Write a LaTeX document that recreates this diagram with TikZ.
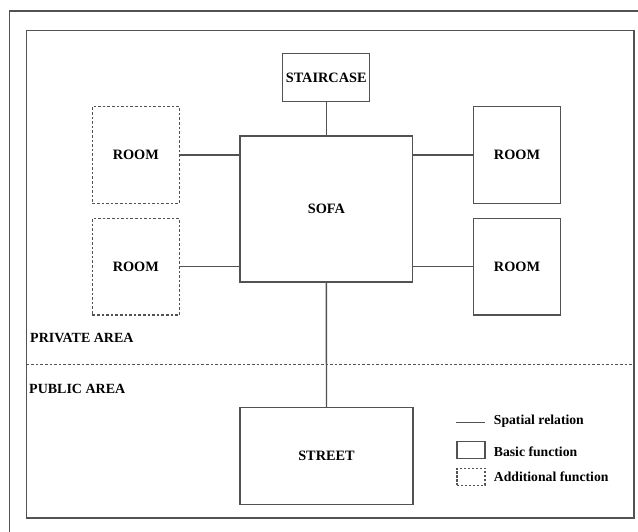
\documentclass[tikz,border=0pt]{standalone}
\usepackage{fontspec}
\setmainfont{Liberation Serif}
\begin{document}
\begin{tikzpicture}[x=1pt,y=-1pt,
  edge/.style={draw=black!68,line width=1.4pt},
  basic/.style={rectangle,draw=black!68,line width=1.4pt,inner sep=0pt,outer sep=0pt,
    font=\fontsize{14.3}{16}\selectfont\bfseries},
  extra/.style={basic,dash pattern=on 2.6pt off 2pt},
  lbl/.style={font=\fontsize{14}{16}\selectfont\bfseries,inner sep=0pt,anchor=west},
  leg/.style={font=\fontsize{13.7}{15}\selectfont\bfseries,inner sep=0pt,anchor=west}]
\useasboundingbox (0,0) rectangle (638,532);
% outer and inner frames
\draw[edge] (9.5,545) -- (9.5,11) -- (650,11);
\draw[edge] (26.5,30.5) rectangle (634,518);
% boundary between private and public areas
\draw[draw=black!68,line width=1.1pt,dash pattern=on 2.6pt off 2pt] (26.5,364.3) -- (634,364.3);
\node[lbl] (priv) at (30,338) {PRIVATE AREA};
\node[lbl] (pub) at (29,389) {PUBLIC AREA};
% functions
\node[basic,minimum width=87pt,minimum height=48.4pt] (stair) at (326.2,77.5) {STAIRCASE};
\node[basic,minimum width=172.7pt,minimum height=146pt] (sofa) at (326.35,209) {SOFA};
\node[extra,minimum width=87pt,minimum height=96.6pt] (roomA) at (135.8,155) {ROOM};
\node[extra,minimum width=87pt,minimum height=96.7pt] (roomB) at (135.8,266.7) {ROOM};
\node[basic,minimum width=86.6pt,minimum height=96.6pt] (roomC) at (517,155) {ROOM};
\node[basic,minimum width=86.6pt,minimum height=96.7pt] (roomD) at (517,266.7) {ROOM};
\node[basic,minimum width=173pt,minimum height=97pt] (street) at (326.5,455.8) {STREET};
% spatial relations
\draw[edge] (stair.south) -- (sofa.north -| stair.south);
\draw[edge] (roomA.east) -- (sofa.west |- roomA.east);
\draw[edge] (roomB.east) -- (sofa.west |- roomB.east);
\draw[edge] (roomC.west) -- (sofa.east |- roomC.west);
\draw[edge] (roomD.west) -- (sofa.east |- roomD.west);
\draw[edge] (sofa.south) -- (street.north);
% legend
\coordinate (la) at (455.7,422.7);
\coordinate (lb) at (484.7,422.7);
\draw[draw=black!68,line width=1.1pt] (la) -- (lb);
\node[leg] (t1) at (493.7,421) {Spatial relation};
\node[rectangle,draw=black!68,line width=1.1pt,inner sep=0pt,minimum width=28pt,minimum height=16.6pt] (kb) at (471,450) {};
\node[leg] (t2) at (493.7,451.5) {Basic function};
\node[rectangle,draw=black!68,line width=1.1pt,dash pattern=on 2.2pt off 1.8pt,inner sep=0pt,minimum width=28pt,minimum height=17pt] (ka) at (471,476.8) {};
\node[leg] (t3) at (493.7,477) {Additional function};
\end{tikzpicture}
\end{document}
